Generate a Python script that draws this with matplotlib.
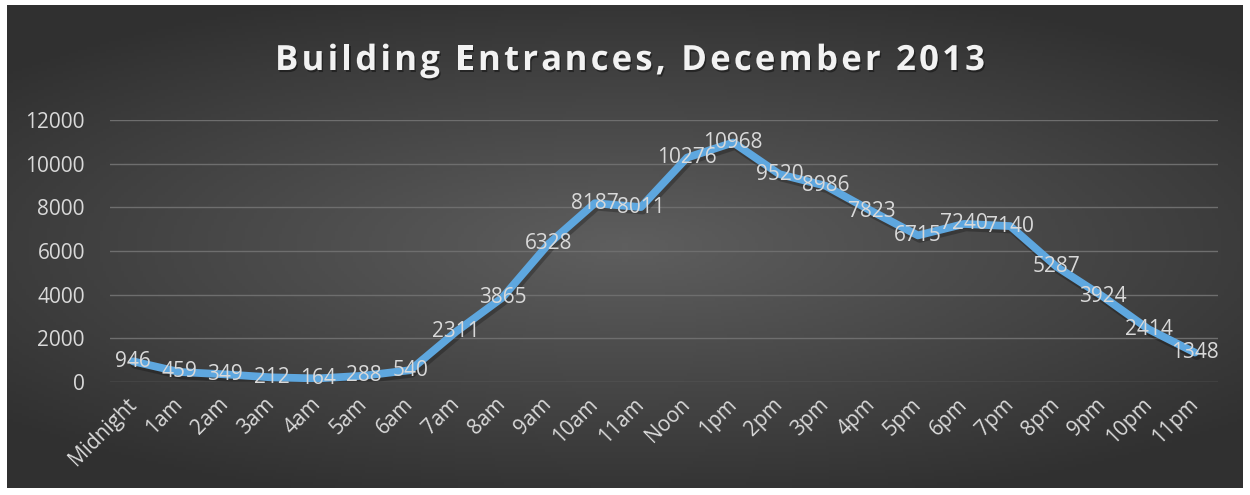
import matplotlib.pyplot as plt
import matplotlib.patheffects as pe
import numpy as np

hours = ['Midnight', '1am', '2am', '3am', '4am', '5am', '6am', '7am', '8am', '9am',
         '10am', '11am', 'Noon', '1pm', '2pm', '3pm', '4pm', '5pm', '6pm', '7pm',
         '8pm', '9pm', '10pm', '11pm']
entrances = [946, 459, 349, 212, 164, 288, 540, 2311, 3865, 6328,
             8187, 8011, 10276, 10968, 9520, 8986, 7823, 6715, 7240, 7140,
             5287, 3924, 2414, 1348]
y_ticks = [0, 2000, 4000, 6000, 8000, 10000, 12000]
title = 'Building Entrances, December 2013'

W, H = 1250, 495
fig = plt.figure(figsize=(W / 100, H / 100), dpi=100, facecolor='white')

# dark radial gradient background of the chart area
bg = fig.add_axes([7 / W, 1 - 488 / H, 1236 / W, 483 / H])
gx, gy = np.meshgrid(np.linspace(-1, 1, 400), np.linspace(-1, 1, 160))
r = np.clip(np.sqrt((gx * 0.75) ** 2 + (gy * 0.9) ** 2), 0, 1)
shade = 0.37 - 0.18 * r
bg.imshow(np.dstack([shade] * 3), aspect='auto', extent=[0, 1, 0, 1])
bg.axis('off')

ax = fig.add_axes([110 / W, 1 - 382 / H, 1108 / W, 262 / H])
ax.patch.set_alpha(0)
x = np.arange(len(hours))

# soft shadow, then the line itself
ax.plot(x + 0.04, np.array(entrances) - 130, color='black', alpha=0.25, lw=6.5,
        solid_joinstyle='round', solid_capstyle='round', zorder=2)
ax.plot(x, entrances, color='#5ea7df', lw=5.6, solid_joinstyle='round',
        solid_capstyle='round', zorder=3)
for xi, v in zip(x, entrances):
    ax.text(xi, v, str(v), ha='center', va='center', color='#d9d9d9',
            fontsize=15, family='Open Sans', zorder=4)

ax.set_xlim(-0.5, len(hours) - 0.5)
ax.set_ylim(0, 12000)
ax.set_yticks(y_ticks)
ax.set_yticklabels([str(t) for t in y_ticks], family='Open Sans', fontsize=15,
                   color='#d9d9d9')
ax.set_xticks(x)
ax.set_xticklabels(hours, rotation=45, ha='right', va='center',
                   rotation_mode='anchor', family='Open Sans', fontsize=15,
                   color='#d9d9d9')
ax.tick_params(length=0)
ax.tick_params(axis='y', pad=18)
ax.tick_params(axis='x', pad=14)
ax.grid(axis='y', color='#6e6e6e', lw=1)
ax.set_axisbelow(True)
for s in ax.spines.values():
    s.set_visible(False)

# title with wide letter spacing, laid out one character at a time
renderer = fig.canvas.get_renderer()
tstyle = dict(fontsize=25, fontweight='bold', family='Open Sans')


def text_w(s):
    t = fig.text(0, 0, s + '|', **tstyle)
    w = t.get_window_extent(renderer).width
    t.remove()
    return w


bar_w = text_w('')
natural = text_w(title) - bar_w
track = (710 - natural) / (len(title) - 1)
x0 = 630 - 710 / 2
for i, ch in enumerate(title):
    px = x0 + (text_w(title[:i]) - bar_w) + i * track
    fig.text(px / W, 1 - 70 / H, ch, ha='left', va='baseline', color='#f2f2f2',
             path_effects=[pe.withSimplePatchShadow(offset=(1, -1.5),
                                                    shadow_rgbFace='black',
                                                    alpha=0.4)],
             **tstyle)

fig.savefig('out.png', dpi=100, facecolor='white')
